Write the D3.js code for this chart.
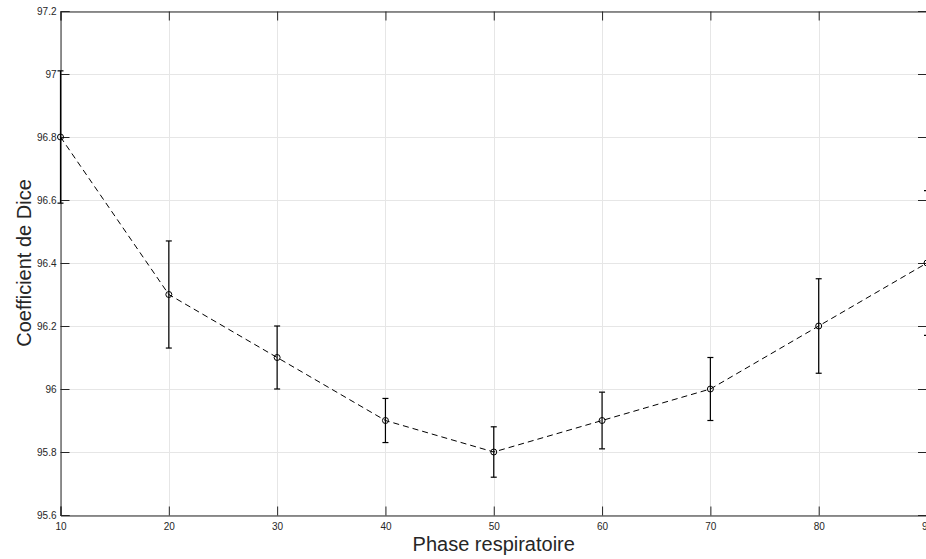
<!DOCTYPE html>
<html>
<head>
<meta charset="utf-8">
<script src="https://cdn.jsdelivr.net/npm/d3@7"></script>
<style>
  html, body { margin: 0; padding: 0; background: #fff; overflow: hidden; }
  svg { display: block; }
  text { font-family: "Liberation Sans", Arial, Helvetica, sans-serif; }
</style>
</head>
<body>
<script>
const phases = [10, 20, 30, 40, 50, 60, 70, 80, 90];
const dice = [96.8, 96.3, 96.1, 95.9, 95.8, 95.9, 96.0, 96.2, 96.4];
const errLow = [0.21, 0.17, 0.10, 0.07, 0.08, 0.09, 0.10, 0.15, 0.23];
const errHigh = [0.21, 0.17, 0.10, 0.07, 0.08, 0.09, 0.10, 0.15, 0.23];
const xTicks = [10, 20, 30, 40, 50, 60, 70, 80, 90];
const yTicks = [95.6, 95.8, 96, 96.2, 96.4, 96.6, 96.8, 97, 97.2];
const xLabel = "Phase respiratoire";
const yLabel = "Coefficient de Dice";

const W = 926, H = 559;
const L = 60.5, R = 927, T = 11, B = 515;
const svg = d3.select("body").append("svg").attr("width", W).attr("height", H);

const x = d3.scaleLinear().domain([10, 90]).range([L, R]);
const y = d3.scaleLinear().domain([95.6, 97.2]).range([B, T]);

const axisColor = "#262626";
const gridColor = "#e6e6e6";
const tickLen = 9;

// grid
const grid = svg.append("g");
grid.selectAll(".gx").data(xTicks).join("line")
  .attr("x1", d => Math.round(x(d)) + 0.5).attr("x2", d => Math.round(x(d)) + 0.5)
  .attr("y1", T).attr("y2", B)
  .attr("stroke", gridColor).attr("stroke-width", 1);
grid.selectAll(".gy").data(yTicks).join("line")
  .attr("y1", d => Math.round(y(d)) + 0.5).attr("y2", d => Math.round(y(d)) + 0.5)
  .attr("x1", L).attr("x2", R)
  .attr("stroke", gridColor).attr("stroke-width", 1);

// axes with d3 axis generators (inward ticks)
const fmt = d => String(+d.toFixed(1));
const gBottom = svg.append("g").attr("transform", `translate(0,${B + 0.5})`)
  .call(d3.axisBottom(x).tickValues(xTicks).tickSize(-tickLen).tickPadding(tickLen + 8).tickFormat(fmt));
const gTop = svg.append("g").attr("transform", `translate(0,${T + 0.5})`)
  .call(d3.axisTop(x).tickValues(xTicks).tickSize(-tickLen).tickFormat(""));
const gLeft = svg.append("g").attr("transform", `translate(${L},0)`)
  .call(d3.axisLeft(y).tickValues(yTicks).tickSize(-tickLen).tickPadding(4).tickFormat(fmt));
const gRight = svg.append("g").attr("transform", `translate(${R},0)`)
  .call(d3.axisRight(y).tickValues(yTicks).tickSize(-tickLen).tickFormat(""));

[gBottom, gTop, gLeft, gRight].forEach(g => {
  g.select(".domain").attr("stroke", axisColor).attr("stroke-width", 1);
  g.selectAll(".tick line").attr("stroke", axisColor).attr("stroke-width", 1);
  g.selectAll(".tick text").attr("fill", axisColor).attr("font-size", 10)
    .attr("font-family", "Liberation Sans, Arial, sans-serif");
});
gLeft.selectAll(".tick text").attr("x", -4 - 0);
gBottom.selectAll(".tick text").attr("y", 7).attr("dy", "0.71em");

// error bars
const capW = 3;
const eb = svg.append("g");
phases.forEach((p, i) => {
  const cx = x(p);
  const yt = y(dice[i] + errHigh[i]);
  const yb = y(dice[i] - errLow[i]);
  eb.append("line").attr("x1", cx).attr("x2", cx).attr("y1", yt).attr("y2", yb)
    .attr("stroke", "#000").attr("stroke-width", 1.2);
  eb.append("line").attr("x1", cx - capW).attr("x2", cx + capW).attr("y1", yt).attr("y2", yt)
    .attr("stroke", "#000").attr("stroke-width", 1.2);
  eb.append("line").attr("x1", cx - capW).attr("x2", cx + capW).attr("y1", yb).attr("y2", yb)
    .attr("stroke", "#000").attr("stroke-width", 1.2);
});

// dashed line
const line = d3.line().x((d, i) => x(phases[i])).y(d => y(d));
svg.append("path").datum(dice).attr("d", line)
  .attr("fill", "none").attr("stroke", "#000").attr("stroke-width", 1)
  .attr("stroke-dasharray", "6,4");

// markers
svg.append("g").selectAll("circle").data(dice).join("circle")
  .attr("cx", (d, i) => x(phases[i])).attr("cy", d => y(d)).attr("r", 3)
  .attr("fill", "none").attr("stroke", "#000").attr("stroke-width", 1);

// axis labels
svg.append("text").attr("x", (L + R) / 2).attr("y", 551)
  .attr("text-anchor", "middle").attr("font-size", 20).attr("fill", axisColor)
  .text(xLabel);
svg.append("text").attr("transform", `translate(31,${(T + B) / 2}) rotate(-90)`)
  .attr("text-anchor", "middle").attr("font-size", 20).attr("fill", axisColor)
  .text(yLabel);
</script>
</body>
</html>
